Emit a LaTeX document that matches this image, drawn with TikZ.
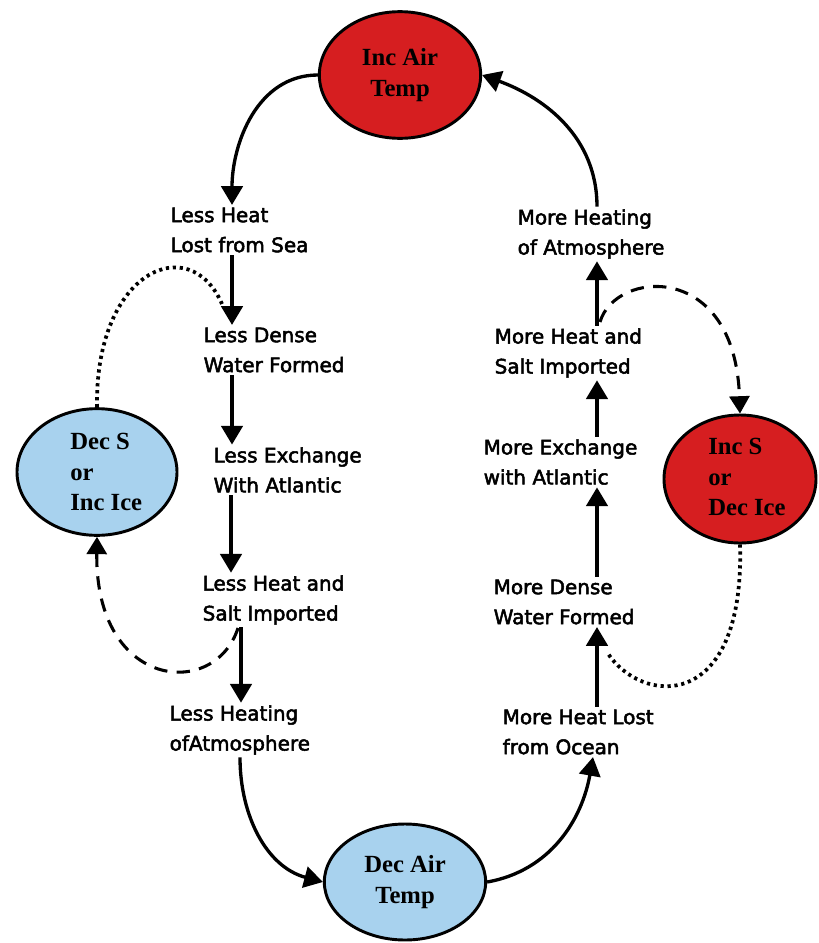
\documentclass[tikz,border=0pt]{standalone}
\usepackage{fontspec}
\setmainfont{DejaVu Sans}
\newfontfamily\comic[FakeBold=2.5]{DejaVu Sans}
\newfontfamily\tnr{Liberation Serif}
\usetikzlibrary{shapes.geometric,arrows.meta}
\definecolor{ired}{RGB}{214,30,32}
\definecolor{iblue}{RGB}{168,210,238}
\begin{document}
\begin{tikzpicture}[x=0.75pt,y=0.75pt,
  ell/.style={ellipse, draw, line width=2.2pt, inner sep=0pt},
  lab/.style={font=\comic\fontsize{15}{22.5}\selectfont, align=left, anchor=west, inner sep=0pt, outer sep=2pt},
  etx/.style={font=\tnr\bfseries\fontsize{18.5}{23}\selectfont},
  arr/.style={line width=2.5pt, -{Triangle[width=16pt,length=14pt]}},
  dashline/.style={line width=2.3pt, dash pattern=on 10pt off 7pt},
  dotline/.style={line width=2.8pt, dash pattern=on 2.4pt off 2.8pt}]
\useasboundingbox (0,0) rectangle (818,-943);
\fill[white] (0,0) rectangle (818,-943);
% ellipses
\node[ell, etx, align=center, fill=ired, minimum width=121pt, minimum height=95pt] (top) at (400,-75) {Inc Air\\Temp};
\node[ell, fill=iblue, minimum width=120pt, minimum height=95pt] (decs) at (97,-472) {};
\node[etx, align=left, anchor=west, inner sep=0pt] (decst) at (70,-472) {Dec S\\or\\Inc Ice};
\node[ell, fill=ired, minimum width=114pt, minimum height=96pt] (incs) at (740,-479) {};
\node[etx, align=left, anchor=west, inner sep=0pt] (incst) at (708,-477) {Inc S\\or\\Dec Ice};
\node[ell, etx, align=center, fill=iblue, minimum width=121pt, minimum height=87pt] (bot) at (405,-882) {Dec Air\\Temp};
% left column
\node[lab] (l1) at (168,-230) {Less Heat\\Lost from Sea};
\node[lab] (l2) at (201,-350) {Less Dense\\Water Formed};
\node[lab] (l3) at (211,-470) {Less Exchange\\With Atlantic};
\node[lab] (l4) at (200,-600) {Less Heat and\\Salt Imported};
\node[lab] (l5) at (167,-730) {Less Heating\\ofAtmosphere};
% right column
\node[lab] (r1) at (515,-234) {More Heating\\of Atmosphere};
\node[lab] (r2) at (492,-353) {More Heat and\\Salt Imported};
\node[lab] (r3) at (481,-462) {More Exchange\\with Atlantic};
\node[lab] (r4) at (491,-602) {More Dense\\Water Formed};
\node[lab] (r5) at (500,-732) {More Heat Lost\\from Ocean};
% helper coordinates
\coordinate (xa) at (232,0);
\coordinate (xb) at (231,0);
\coordinate (xc) at (241,0);
\coordinate (xd) at (240,0);
\coordinate (xr) at (597,0);
\coordinate (xs) at (593,0);
\coordinate (dl) at (222,-304);
\coordinate (ds) at (238,-628);
\coordinate (rs) at (600,-322);
\coordinate (dr) at (607,-652);
% main loop
\draw[arr] (top.west) to[out=180,in=90] (l1.north -| xa);
\draw[arr] (l1.south -| xa) -- (l2.north -| xa);
\draw[arr] (l2.south -| xa) -- (l3.north -| xa);
\draw[arr] (l3.south -| xb) -- (l4.north -| xb);
\draw[arr] (l4.south -| xc) -- (l5.north -| xc);
\draw[arr] (l5.south -| xd) to[out=-90,in=165] (bot.west);
\draw[arr] (bot.east) to[out=10,in=-100] (r5.south -| xs);
\draw[arr] (r5.north -| xr) -- (r4.south -| xr);
\draw[arr] (r4.north -| xr) -- (r3.south -| xr);
\draw[arr] (r3.north -| xr) -- (r2.south -| xr);
\draw[arr] (r2.north -| xr) -- (r1.south -| xr);
\draw[arr] (r1.north -| xr) to[out=90,in=-20] (top.east);
% feedbacks
\draw[dotline] (decs.north) .. controls (95,-270) and (190,-230) .. (dl);
\draw[dashline, -{Triangle[width=15pt,length=13pt]}] (ds) .. controls (215,-700) and (95,-690) .. (decs.south);
\draw[dashline, -{Triangle[width=15pt,length=13pt]}] (rs) .. controls (615,-270) and (735,-260) .. (incs.north);
\draw[dotline] (incs.south) .. controls (745,-715) and (640,-705) .. (dr);
\end{tikzpicture}
\end{document}
